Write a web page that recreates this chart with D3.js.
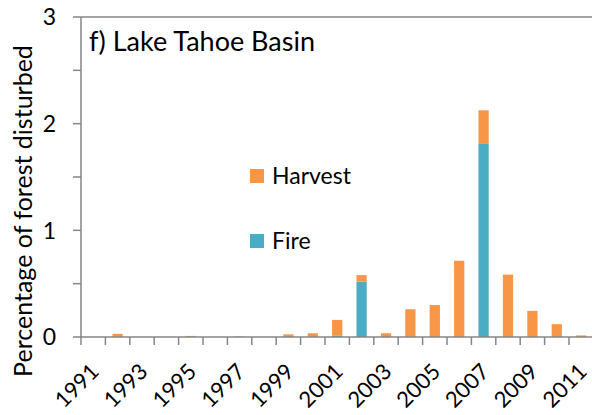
<!DOCTYPE html>
<html><head><meta charset="utf-8">
<script src="https://cdn.jsdelivr.net/npm/d3@7"></script>
<style>body{margin:0;background:#fff}svg{display:block}text{font-family:Lato,"Open Sans",sans-serif}</style>
</head><body>
<svg id="c" width="592" height="415"></svg>
<script>
const years = [1991,1992,1993,1994,1995,1996,1997,1998,1999,2000,2001,2002,2003,2004,2005,2006,2007,2008,2009,2010,2011];
const fire =    [0,0,0,0,0,0,0,0,0,0,0.015,0.52,0,0,0,0,1.81,0,0,0,0];
const harvest = [0,0.03,0,0,0.01,0,0.005,0,0.025,0.035,0.145,0.06,0.035,0.26,0.30,0.715,0.315,0.585,0.245,0.12,0.015];
const yTicks = [0,1,2,3];
const xLabels = years.filter(y => y % 2 === 1);
const seriesNames = ["Harvest","Fire"];
const colors = {Harvest:"#F79646", Fire:"#4BACC6"};

const svg = d3.select("#c");
const m = {left:81, top:17, right:593.4, bottom:337};
const x = d3.scaleBand().domain(years).range([m.left, m.right]).paddingInner(0.58).paddingOuter(0.29);
const xb = d3.scaleBand().domain(years).range([m.left, m.right]);
const y = d3.scaleLinear().domain([0,3]).range([m.bottom, m.top]);
const axisColor = "#868686";

const data = years.map((yr,i)=>({year:yr, Fire:fire[i], Harvest:harvest[i]}));
const stack = d3.stack().keys(["Fire","Harvest"])(data);
svg.append("g").selectAll("g").data(stack).join("g")
  .attr("fill", d => colors[d.key])
  .selectAll("rect").data(d=>d).join("rect")
  .attr("x", d => x(d.data.year))
  .attr("width", x.bandwidth())
  .attr("y", d => y(d[1]))
  .attr("height", d => y(d[0]) - y(d[1]));

// top border
svg.append("line").attr("x1", m.left).attr("x2", 592).attr("y1", y(3)).attr("y2", y(3))
  .attr("stroke", axisColor).attr("stroke-width", 1.5);

// y axis
const yAx = svg.append("g");
yAx.append("line").attr("x1", m.left).attr("x2", m.left).attr("y1", y(0)).attr("y2", y(3))
  .attr("stroke", axisColor).attr("stroke-width", 1.5);
yAx.selectAll("line.t").data(d3.range(0,3.01,0.5)).join("line").attr("class","t")
  .attr("x1", m.left-8).attr("x2", m.left).attr("y1", d=>y(d)).attr("y2", d=>y(d))
  .attr("stroke", axisColor).attr("stroke-width", 1.5);
yAx.selectAll("text").data(yTicks).join("text")
  .attr("x", 56).attr("y", d=>y(d)).attr("dy","0.36em").attr("text-anchor","end")
  .attr("font-size", 23).attr("fill","#000").text(d=>d);

// x axis
const xAx = svg.append("g");
xAx.append("line").attr("x1", m.left).attr("x2", 592).attr("y1", y(0)).attr("y2", y(0))
  .attr("stroke", axisColor).attr("stroke-width", 1.5);
xAx.selectAll("line.t").data(years).join("line").attr("class","t")
  .attr("x1", d=>xb(d)).attr("x2", d=>xb(d)).attr("y1", y(0)).attr("y2", y(0)+8)
  .attr("stroke", axisColor).attr("stroke-width", 1.5);
xAx.selectAll("text").data(xLabels).join("text")
  .attr("transform", d=>`translate(${xb(d)+xb.bandwidth()/2+7},${y(0)+36}) rotate(-45)`)
  .attr("text-anchor","end").attr("font-size",22).attr("fill","#000").text(d=>d);

// y title
svg.append("text").attr("transform","translate(32,211) rotate(-90)").attr("text-anchor","middle")
  .attr("font-size",25).attr("fill","#000").text("Percentage of forest disturbed");

// panel title
svg.append("text").attr("x",89).attr("y",51).attr("font-size",27).attr("fill","#000").text("f) Lake Tahoe Basin");

// legend
const leg = svg.append("g");
const legY = {Harvest:176, Fire:241};
seriesNames.forEach(s=>{
  leg.append("rect").attr("x",250).attr("y",legY[s]-7).attr("width",14).attr("height",14).attr("fill",colors[s]);
  leg.append("text").attr("x",272).attr("y",legY[s]).attr("dy","0.36em").attr("font-size",23).attr("fill","#000").text(s);
});
</script>
</body></html>
